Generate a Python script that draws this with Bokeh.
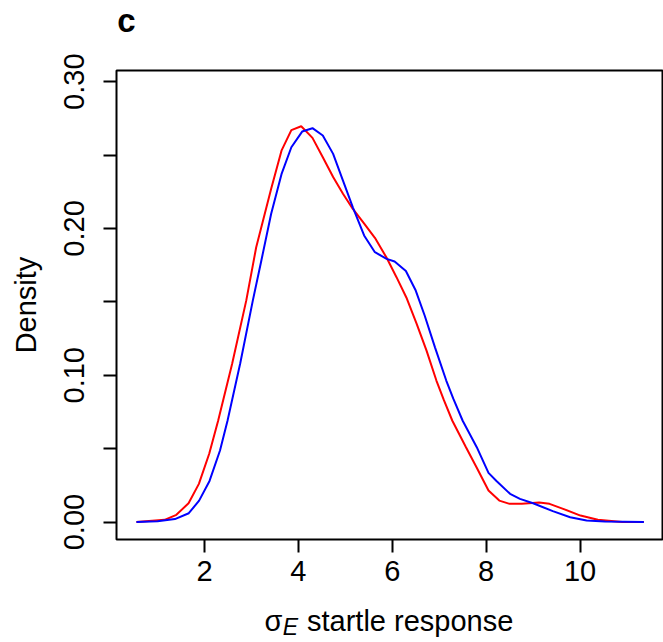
from bokeh.plotting import figure
from bokeh.models import Range1d, FixedTicker, CustomJSTickFormatter, LinearAxis
from bokeh.embed import file_html
from bokeh.resources import INLINE

# density curve, red series (x value, density)
red_x = [0.55, 1.15, 1.40, 1.66, 1.88, 2.10, 2.29, 2.59, 2.89, 3.10, 3.42, 3.64,
         3.85, 4.06, 4.30, 4.52, 4.74, 4.95, 5.16, 5.41, 5.63, 5.88, 6.09, 6.30,
         6.52, 6.73, 6.94, 7.10, 7.28, 7.57, 7.80, 8.05, 8.28, 8.50, 8.76, 9.13,
         9.35, 9.64, 10.01, 10.38, 10.90, 11.36]
red_y = [0.0, 0.0015, 0.0049, 0.0128, 0.026, 0.0465, 0.069, 0.108, 0.151, 0.187,
         0.227, 0.253, 0.267, 0.2696, 0.2617, 0.2485, 0.235, 0.2236, 0.2133, 0.203,
         0.1936, 0.180, 0.1668, 0.153, 0.135, 0.1168, 0.0964, 0.083, 0.069, 0.051,
         0.037, 0.0215, 0.0146, 0.0124, 0.0124, 0.0133, 0.0124, 0.009, 0.0044,
         0.0015, 0.0001, 0.0]

# density curve, blue series
blue_x = [0.55, 1.00, 1.37, 1.665, 1.885, 2.107, 2.33, 2.49, 2.76, 3.03, 3.21, 3.42,
          3.64, 3.85, 4.08, 4.30, 4.52, 4.74, 4.95, 5.16, 5.40, 5.63, 5.88, 6.05,
          6.29, 6.50, 6.69, 6.91, 7.15, 7.30, 7.50, 7.80, 8.05, 8.22, 8.51, 8.72,
          9.00, 9.42, 9.79, 10.14, 10.53, 11.36]
blue_y = [0.0, 0.0005, 0.002, 0.006, 0.0146, 0.028, 0.0487, 0.069, 0.108, 0.151,
          0.178, 0.21, 0.237, 0.2553, 0.266, 0.2683, 0.2633, 0.2508, 0.2326, 0.2144,
          0.1952, 0.1838, 0.1793, 0.1775, 0.171, 0.1577, 0.1407, 0.119, 0.0964,
          0.084, 0.069, 0.051, 0.0335, 0.028, 0.0192, 0.0158, 0.0128, 0.0074,
          0.0033, 0.001, 0.0003, 0.0]

x_ticks = [2, 4, 6, 8, 10]
y_ticks = [0.0, 0.05, 0.10, 0.15, 0.20, 0.25, 0.30]
y_tick_labels = ["0.00", "", "0.10", "", "0.20", "", "0.30"]

y_title = "Density"
x_title_parts = ["σ", "startle response"]   # main-size pieces of the x title
x_title_sub = "E"                            # italic subscript after sigma
panel_letter = "c"

FONT = "Liberation Sans"

x0, x1 = 0.125, 11.757
y0, y1 = -0.0119, 0.3076

p = figure(width=663, height=642, output_backend="svg", toolbar_location=None,
           x_range=Range1d(x0, x1), y_range=Range1d(y0, y1),
           min_border_left=116, min_border_right=1, min_border_top=70,
           min_border_bottom=103, background_fill_color="white",
           border_fill_color="white")
p.title_location = None

p.xgrid.visible = False
p.ygrid.visible = False
p.outline_line_color = "black"
p.outline_line_width = 2
p.outline_line_alpha = 1.0


def list_formatter(vals, labels):
    return CustomJSTickFormatter(
        args=dict(tvals=vals, tlabels=labels),
        code="""
for (let i = 0; i < tvals.length; i++) {
  if (Math.abs(tick - tvals[i]) < 1e-9) return tlabels[i];
}
return "";
""")


p.xaxis.ticker = FixedTicker(ticks=x_ticks)
p.yaxis.ticker = FixedTicker(ticks=y_ticks)
p.yaxis.formatter = list_formatter(y_ticks, y_tick_labels)

for ax in (p.xaxis[0], p.yaxis[0]):
    ax.axis_line_color = None
    ax.major_tick_out = 13
    ax.major_tick_in = 0
    ax.major_tick_line_width = 2
    ax.major_tick_line_color = "black"
    ax.minor_tick_line_color = None
    ax.major_label_text_font = FONT
    ax.major_label_text_font_size = "29px"
    ax.major_label_text_color = "black"

p.xaxis.major_label_standoff = 8
p.yaxis.major_label_orientation = "vertical"
p.yaxis.major_label_standoff = 19
p.yaxis.axis_label = y_title
p.yaxis.axis_label_text_font = FONT
p.yaxis.axis_label_text_font_size = "29px"
p.yaxis.axis_label_text_font_style = "normal"
p.yaxis.axis_label_text_color = "black"
p.yaxis.axis_label_standoff = 20

p.line(red_x, red_y, line_color="#FF0000", line_width=2)
p.line(blue_x, blue_y, line_color="#0000FF", line_width=2)


# pixel column in the picture -> x data value (used only to place text pieces)
def px_x(px):
    return x0 + (px - 116) * (x1 - x0) / 546.0


def text_axis(positions, labels, size, style, standoff, shrink=False):
    ax = LinearAxis(ticker=FixedTicker(ticks=positions),
                    formatter=list_formatter(positions, labels))
    ax.axis_line_color = None
    ax.major_tick_line_color = None
    ax.minor_tick_line_color = None
    ax.major_tick_out = 0
    ax.major_tick_in = 0
    ax.major_label_standoff = standoff
    ax.major_label_text_font = FONT
    ax.major_label_text_font_size = size
    ax.major_label_text_font_style = style
    ax.major_label_text_color = "black"
    if shrink:
        # a blank label pulled inwards keeps this outermost text panel short
        ax.axis_label = " "
        ax.axis_label_text_font_size = "10px"
        ax.axis_label_standoff = -30
    return ax


# x title: "σ" + italic subscript "E" + "startle response"
main_pos = [px_x(273), px_x(409.7)]
p.add_layout(text_axis(main_pos, x_title_parts, "29px", "normal", 21), "below")
p.add_layout(text_axis([px_x(290)], [x_title_sub], "23px", "italic", -26,
                       shrink=True), "below")

# panel letter above the plot
p.add_layout(text_axis([px_x(126)], [panel_letter], "33px", "bold", 32,
                       shrink=True), "above")

open("out.html", "w").write(file_html(p, INLINE))
